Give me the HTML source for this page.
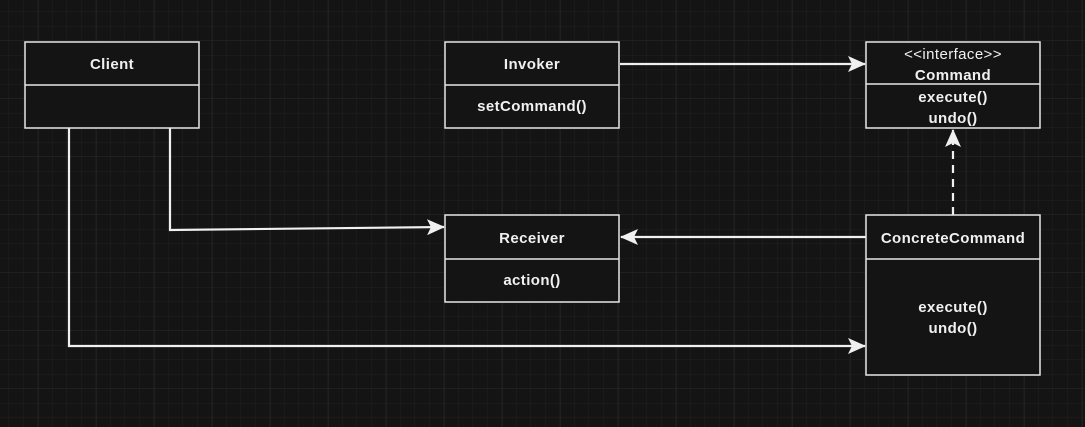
<!DOCTYPE html>
<html><head><style>
html,body{margin:0;padding:0;background:#141414;}
svg{display:block}
text{font-family:"Liberation Sans",sans-serif;font-size:15px;font-weight:bold;fill:#f0f0f0;text-anchor:middle;letter-spacing:0.4px}
</style></head><body>
<svg width="1085" height="427" xmlns="http://www.w3.org/2000/svg">
<defs>
<pattern id="mi" width="14.5" height="14.5" patternUnits="userSpaceOnUse" x="-5.5" y="-2.5">
<path d="M14.5 0V14.5M0 14.5H14.5" stroke="#1f1f1f" stroke-width="1" fill="none"/></pattern>
<pattern id="ma" width="58" height="58" patternUnits="userSpaceOnUse" x="-19" y="-17">
<path d="M58 0V58M0 58H58" stroke="#2a2a2a" stroke-width="1" fill="none"/></pattern>
<marker id="ar" viewBox="0 0 18 16" refX="17" refY="8" markerWidth="18" markerHeight="16" markerUnits="userSpaceOnUse" orient="auto">
<path d="M0 0L18 8L0 16L4 8Z" fill="#f0f0f0"/></marker>
</defs>
<rect width="1085" height="427" fill="#141414"/>
<rect width="1085" height="427" fill="url(#mi)"/>
<rect width="1085" height="427" fill="url(#ma)"/>
<g stroke="#f0f0f0" stroke-width="2.2" fill="none">
<path d="M620 64H865" marker-end="url(#ar)"/>
<path d="M170 128V230L444 227" marker-end="url(#ar)"/>
<path d="M69 128V346H865" marker-end="url(#ar)"/>
<path d="M866 237H621" marker-end="url(#ar)"/>
<path d="M953 215V130" stroke-dasharray="8,6" marker-end="url(#ar)"/>
</g>
<g fill="#141414" stroke="#e6e6e6" stroke-width="1.5">
<rect x="25" y="42" width="174" height="86"/><path d="M25 85H199"/>
<rect x="445" y="42" width="174" height="86"/><path d="M445 85H619"/>
<rect x="866" y="42" width="174" height="86"/><path d="M866 84H1040"/>
<rect x="445" y="215" width="174" height="87"/><path d="M445 259H619"/>
<rect x="866" y="215" width="174" height="160"/><path d="M866 259H1040"/>
</g>
<text x="112" y="69">Client</text>
<text x="532" y="69">Invoker</text>
<text x="532" y="111">setCommand()</text>
<text x="953" y="59" style="font-weight:normal">&lt;&lt;interface&gt;&gt;</text>
<text x="953" y="80">Command</text>
<text x="953" y="102">execute()</text>
<text x="953" y="123">undo()</text>
<text x="532" y="243">Receiver</text>
<text x="532" y="285">action()</text>
<text x="953" y="243">ConcreteCommand</text>
<text x="953" y="312">execute()</text>
<text x="953" y="333">undo()</text>
</svg>
</body></html>
